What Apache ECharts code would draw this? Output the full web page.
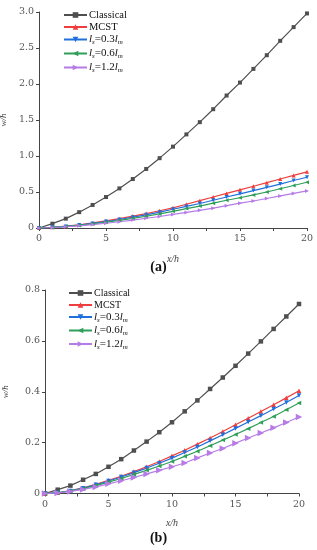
<!DOCTYPE html>
<html><head><meta charset="utf-8">
<script src="https://cdn.jsdelivr.net/npm/echarts@6/dist/echarts.min.js"></script>
<style>html,body{margin:0;padding:0;background:#fff}#c{width:317px;height:550px}</style>
</head><body><div id="c"></div>
<script>
const xs = [0,1,2,3,4,5,6,7,8,9,10,11,12,13,14,15,16,17,18,19,20];
// (a)
const aClassical = [0,0.06,0.13,0.22,0.32,0.43,0.55,0.68,0.82,0.97,1.13,1.30,1.47,1.65,1.84,2.02,2.21,2.40,2.60,2.79,2.98];
const aMCST = [0,0.01,0.025,0.045,0.07,0.10,0.13,0.165,0.20,0.24,0.28,0.33,0.38,0.43,0.48,0.53,0.58,0.63,0.68,0.73,0.78];
const aLs03 = [0,0.01,0.022,0.04,0.063,0.09,0.118,0.15,0.183,0.22,0.26,0.30,0.34,0.385,0.43,0.475,0.52,0.565,0.61,0.66,0.705];
const aLs06 = [0,0.008,0.02,0.036,0.056,0.08,0.105,0.133,0.163,0.196,0.232,0.27,0.305,0.345,0.385,0.42,0.46,0.50,0.545,0.59,0.635];
const aLs12 = [0,0.007,0.017,0.03,0.047,0.066,0.087,0.11,0.135,0.16,0.188,0.216,0.245,0.275,0.31,0.345,0.375,0.41,0.445,0.48,0.515];
// (b)
const bClassical = [0,0.015,0.031,0.054,0.077,0.105,0.135,0.169,0.204,0.241,0.28,0.323,0.366,0.411,0.456,0.502,0.55,0.598,0.647,0.696,0.745];
const bMCST = [0,0.003,0.011,0.022,0.036,0.052,0.068,0.086,0.105,0.126,0.148,0.17,0.194,0.218,0.244,0.27,0.296,0.322,0.349,0.376,0.404];
const bLs03 = [0,0.003,0.01,0.021,0.034,0.049,0.065,0.082,0.1,0.119,0.139,0.161,0.183,0.207,0.231,0.256,0.281,0.306,0.332,0.358,0.385];
const bLs06 = [0,0.003,0.009,0.019,0.031,0.045,0.059,0.075,0.091,0.108,0.126,0.146,0.166,0.188,0.21,0.232,0.255,0.279,0.303,0.329,0.356];
const bLs12 = [0,0.002,0.008,0.016,0.026,0.038,0.05,0.063,0.077,0.091,0.105,0.12,0.14,0.159,0.177,0.198,0.218,0.238,0.258,0.279,0.301];
const seriesNames = ['Classical','MCST','ls03','ls06','ls12'];
const legendLabels = {
  Classical: 'Classical',
  MCST: 'MCST',
  ls03: '{i|l}{sub|s}{n|=0.3}{i|l}{sub|m}',
  ls06: '{i|l}{sub|s}{n|=0.6}{i|l}{sub|m}',
  ls12: '{i|l}{sub|s}{n|=1.2}{i|l}{sub|m}'
};
const xTicks = {min:0, max:20, interval:5};
const aY = {min:0, max:3.0, interval:0.5};
const bY = {min:0, max:0.8, interval:0.2};

const colors = {Classical:'#4f4f4f', MCST:'#ef3e3e', ls03:'#2070dc', ls06:'#2f9e58', ls12:'#b67be6'};
const symbols = {Classical:['rect',0], MCST:['triangle',0], ls03:['triangle',180], ls06:['triangle',90], ls12:['triangle',-90]};
const serif = 'Liberation Serif';
const tickFont = 'DejaVu Serif';

function pairs(v){ return xs.map((x,i)=>[x,v[i]]); }

const aData = [aClassical,aMCST,aLs03,aLs06,aLs12];
const bData = [bClassical,bMCST,bLs03,bLs06,bLs12];

const series = [];
seriesNames.forEach((n,k)=>{
  [[aData,0,4],[bData,1,4.5]].forEach(([d,g,sz])=>{
    let s = sz;
    if (n==='ls12' && g===1) s = 6.5;
    series.push({
      name:n, type:'line', xAxisIndex:g, yAxisIndex:g,
      data:pairs(d[k]), symbol:symbols[n][0], symbolRotate:symbols[n][1], symbolSize:s,
      showSymbol:true, animation:false,
      lineStyle:{color:colors[n], width:1.2},
      itemStyle:{color:colors[n]}
    });
  });
});

const rich = {
  i:{fontStyle:'italic', fontFamily:serif, fontSize:11, lineHeight:12, color:'#111'},
  n:{fontFamily:serif, fontSize:11, lineHeight:12, color:'#111'},
  sub:{fontStyle:'italic', fontFamily:serif, fontSize:7, lineHeight:8, padding:[6,0,0,0], color:'#111'}
};
function mkLegends(left, centers, fs){
  return seriesNames.map((n,k)=>({
    data:[n], orient:'vertical', left:left, top:centers[k]-(n.startsWith('ls')?7:6),
    padding:0, itemWidth:23, itemHeight:7, itemGap:0,
    formatter:(name)=>legendLabels[name],
    textStyle:{fontFamily:serif, fontSize:fs, lineHeight:12, color:'#111', padding:[0,0,0,-3], rich:rich},
    selectedMode:false
  }));
}

function xAxis(g, gap){
  return {type:'value', gridIndex:g, min:xTicks.min, max:xTicks.max, interval:xTicks.interval,
    name:'x/h', nameLocation:'middle', nameGap:gap,
    nameTextStyle:{fontFamily:serif, fontStyle:'italic', fontSize:10, color:'#444'},
    axisLine:{lineStyle:{color:'#444', width:1}},
    axisTick:{show:true, inside:false, length:3, lineStyle:{color:'#444'}},
    minorTick:{show:true, splitNumber:2, length:3, lineStyle:{color:'#444'}},
    splitLine:{show:false},
    axisLabel:{fontFamily:tickFont, fontSize:9.5, color:'#555', margin:6}};
}
function yAxis(g, r, gap, dec){
  return {type:'value', gridIndex:g, min:r.min, max:r.max, interval:r.interval,
    name:'w/h', nameLocation:'middle', nameGap:gap,
    nameTextStyle:{fontFamily:serif, fontStyle:'italic', fontSize:9, color:'#444'},
    axisLine:{show:true, lineStyle:{color:'#444', width:1}},
    axisTick:{show:true, inside:false, length:3, lineStyle:{color:'#444'}},
    splitLine:{show:false},
    axisLabel:{fontFamily:tickFont, fontSize:9.5, color:'#555', margin:5,
      formatter:(v)=> v===0 ? '0' : v.toFixed(dec)}};
}

const chart = echarts.init(document.getElementById('c'), null, {renderer:'canvas'});
chart.setOption({
  animation:false,
  grid:[
    {left:39, right:10, top:12, height:216, containLabel:false, outerBoundsMode:'none'},
    {left:45, right:18, top:290, height:203.5, containLabel:false, outerBoundsMode:'none'}
  ],
  xAxis:[xAxis(0,26), xAxis(1,25)],
  yAxis:[yAxis(0,aY,28,1), yAxis(1,bY,35,1)],
  legend:[...mkLegends(63,[15,27,40,54,68],10.5), ...mkLegends(68,[293,305,317.5,331,344.5],10)],
  graphic:[
    {type:'text', left:'center', top:260, style:{text:'(a)', font:'bold 14px "Liberation Serif"', fill:'#111'}},
    {type:'text', left:'center', top:531, style:{text:'(b)', font:'bold 14px "Liberation Serif"', fill:'#111'}}
  ],
  series:series
});
</script></body></html>
